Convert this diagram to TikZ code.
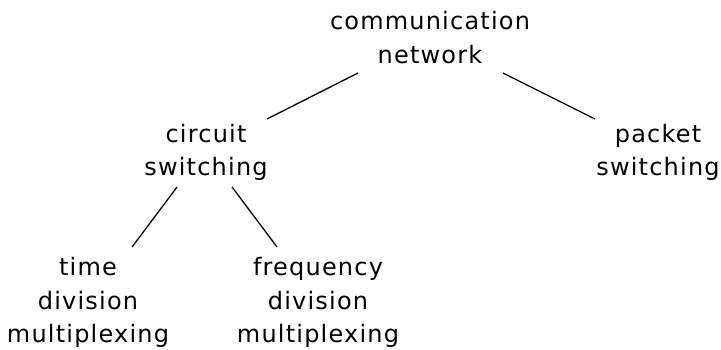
\documentclass[tikz,border=0pt]{standalone}
\usepackage{fontspec}
\newfontfamily\lab{DejaVu Sans}[LetterSpace=5]
\begin{document}
\begin{tikzpicture}[x=1pt,y=1pt,
  lbl/.style={align=center, inner sep=6pt, font=\lab\fontsize{24}{33.7}\selectfont},
  link/.style={line width=1.3pt}]
\useasboundingbox (0,0) rectangle (721,-350);
\node[lbl] (root) at (430,-37.5) {communication\\network};
\node[lbl] (cs) at (206,-152.5) {circuit\\switching};
\node[lbl] (ps) at (658,-152.5) {packet\\switching};
\node[lbl] (tdm) at (88,-302.5) {time\\division\\multiplexing};
\node[lbl] (fdm) at (318,-302.5) {frequency\\division\\multiplexing};
\draw[link] ([shift={(-72,-35.5)}]root.center) -- ([shift={(61,33.5)}]cs.center);
\draw[link] ([shift={(73,-35.5)}]root.center) -- ([shift={(-63,33.5)}]ps.center);
\draw[link] ([shift={(-29,-34.5)}]cs.center) -- ([shift={(44,55.5)}]tdm.center);
\draw[link] ([shift={(26,-34.5)}]cs.center) -- ([shift={(-41,55.5)}]fdm.center);
\end{tikzpicture}
\end{document}
